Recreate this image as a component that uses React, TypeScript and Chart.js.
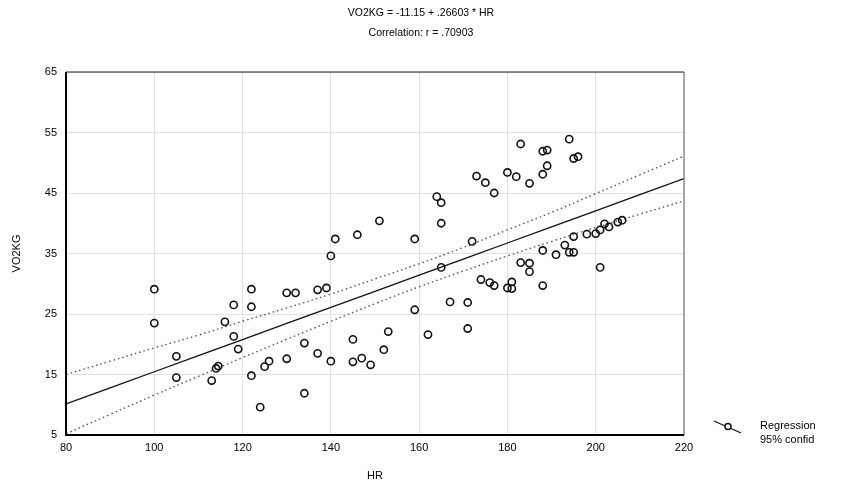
import React, { useEffect, useRef } from "react";
import { Chart, registerables } from "chart.js";

Chart.register(...registerables);

// Observed heart rate (HR) and oxygen uptake per kg (VO2KG)
const hr = [
  100, 100, 105, 105, 113, 114, 114.5, 116, 118, 118, 119, 122, 122, 122, 124, 125, 126,
  130, 132, 130, 134, 134, 137, 139, 137, 140, 140, 141, 145, 145, 146, 147, 149, 151,
  152, 153, 159, 159, 162, 164, 165, 165, 165, 167, 171, 171, 172, 173, 174, 175, 176,
  177, 177, 180, 180, 181, 181, 182, 183, 183, 185, 185, 185, 188, 189, 189, 188, 188,
  188, 191, 193, 194, 195, 195, 194, 195, 196, 198, 200, 201, 201, 202, 203, 205, 206,
];
const vo2kg = [
  29.1, 23.5, 18.0, 14.5, 14.0, 16.0, 16.4, 23.7, 26.5, 21.3, 19.2, 29.1, 26.2, 14.8, 9.6, 16.3, 17.2,
  28.5, 28.5, 17.6, 20.2, 11.9, 29.0, 29.3, 18.5, 17.2, 34.6, 37.4, 20.8, 17.1, 38.1, 17.7, 16.6, 40.4,
  19.1, 22.1, 37.4, 25.7, 21.6, 44.4, 43.4, 40.0, 32.7, 27.0, 26.9, 22.6, 37.0, 47.8, 30.7, 46.7, 30.2,
  29.7, 45.0, 48.4, 29.3, 30.3, 29.2, 47.7, 53.1, 33.5, 46.6, 33.4, 32.0, 51.9, 52.1, 49.5, 48.1, 35.5,
  29.7, 34.8, 36.4, 35.2, 35.2, 37.8, 53.9, 50.7, 51.0, 38.2, 38.3, 38.9, 32.7, 39.9, 39.4, 40.2, 40.5,
];

// Fitted line: VO2KG = -11.15 + .26603 * HR
const intercept = -11.15;
const slope = 0.26603;
const correlation = ".70903";

// 95% confidence band of the fit
const bandX = [80, 90, 100, 110, 120, 130, 140, 150, 160, 170, 180, 190, 200, 210, 220];
const bandUpper = [15.0, 17.2, 19.4, 21.5, 23.8, 26.0, 28.3, 30.8, 33.3, 36.0, 38.9, 41.8, 44.9, 48.0, 51.1];
const bandLower = [5.2, 8.4, 11.6, 14.7, 17.8, 20.8, 23.8, 26.7, 29.5, 32.1, 34.6, 37.0, 39.3, 41.5, 43.7];

const xTicks = [80, 100, 120, 140, 160, 180, 200, 220];
const yTicks = [5, 15, 25, 35, 45, 55, 65];

const FONT = "'Liberation Sans', Arial, sans-serif";

const decorPlugin = {
  id: "decor",
  afterDatasetsDraw(chart: any) {
    const { ctx, chartArea: a, width } = chart;
    ctx.save();
    // frame: thin top/right, heavy left/bottom
    ctx.strokeStyle = "#222";
    ctx.lineWidth = 1.2;
    ctx.beginPath();
    ctx.moveTo(a.left, a.top);
    ctx.lineTo(a.right, a.top);
    ctx.stroke();
    ctx.strokeStyle = "#777";
    ctx.beginPath();
    ctx.moveTo(a.right, a.top);
    ctx.lineTo(a.right, a.bottom);
    ctx.stroke();
    ctx.strokeStyle = "#000";
    ctx.lineWidth = 2;
    ctx.beginPath();
    ctx.moveTo(a.left, a.top);
    ctx.lineTo(a.left, a.bottom);
    ctx.lineTo(a.right, a.bottom);
    ctx.stroke();

    ctx.fillStyle = "#000";
    ctx.textAlign = "center";
    ctx.textBaseline = "middle";
    ctx.font = `10.5px ${FONT}`;
    ctx.fillText(`VO2KG = ${intercept} + ${String(slope).replace(/^0/, "")} * HR`, width / 2, 13);
    ctx.fillText(`Correlation: r = ${correlation}`, width / 2, 33);

    // axis titles
    ctx.font = `11px ${FONT}`;
    ctx.fillText("HR", (a.left + a.right) / 2, 476);
    ctx.save();
    ctx.translate(17, (a.top + a.bottom) / 2);
    ctx.rotate(-Math.PI / 2);
    ctx.fillText("VO2KG", 0, 0);
    ctx.restore();

    // legend
    const lx = a.right + 30;
    const ly = a.bottom - 10;
    ctx.strokeStyle = "#111";
    ctx.lineWidth = 1.2;
    ctx.beginPath();
    ctx.moveTo(lx, ly - 4);
    ctx.lineTo(lx + 27, ly + 8);
    ctx.stroke();
    ctx.fillStyle = "#fff";
    ctx.lineWidth = 1.5;
    ctx.beginPath();
    ctx.arc(lx + 14, ly + 1.5, 3, 0, Math.PI * 2);
    ctx.fill();
    ctx.stroke();
    ctx.fillStyle = "#000";
    ctx.textAlign = "left";
    ctx.fillText("Regression", lx + 46, ly + 1);
    ctx.fillText("95% confid", lx + 46, ly + 15);
    ctx.restore();
  },
};

export default function App() {
  const ref = useRef<HTMLCanvasElement | null>(null);

  useEffect(() => {
    if (!ref.current) return;
    const points = hr.map((x, i) => ({ x, y: vo2kg[i] }));
    const fit = bandX.map((x) => ({ x, y: intercept + slope * x }));
    const upper = bandX.map((x, i) => ({ x, y: bandUpper[i] }));
    const lower = bandX.map((x, i) => ({ x, y: bandLower[i] }));

    const chart = new Chart(ref.current, {
      type: "scatter",
      data: {
        datasets: [
          {
            label: "Regression",
            data: points,
            pointStyle: "circle",
            pointRadius: 3.6,
            pointBorderWidth: 1.6,
            pointBorderColor: "#111",
            pointBackgroundColor: "rgba(0,0,0,0)",
            showLine: false,
            order: 0,
          },
          {
            label: "fit",
            type: "line",
            data: fit,
            borderColor: "#111",
            borderWidth: 1.3,
            pointRadius: 0,
            tension: 0,
            order: 1,
          },
          {
            label: "95% confid",
            type: "line",
            data: upper,
            borderColor: "#555",
            borderWidth: 1.4,
            borderDash: [1.5, 3],
            pointRadius: 0,
            tension: 0.4,
            order: 2,
          },
          {
            label: "95% confid low",
            type: "line",
            data: lower,
            borderColor: "#555",
            borderWidth: 1.4,
            borderDash: [1.5, 3],
            pointRadius: 0,
            tension: 0.4,
            order: 2,
          },
        ],
      },
      options: {
        responsive: false,
        animation: false,
        layout: { padding: { top: 72, right: 158, left: 0, bottom: 0 } },
        plugins: {
          legend: { display: false },
          title: { display: false },
          tooltip: { enabled: false },
        },
        scales: {
          x: {
            type: "linear",
            min: 80,
            max: 220,
            afterBuildTicks: (s: any) => {
              s.ticks = xTicks.map((v) => ({ value: v }));
            },
            afterFit: (s: any) => {
              s.height = 51;
            },
            ticks: {
              color: "#000",
              font: { family: FONT, size: 11 },
              padding: 6,
              maxRotation: 0,
            },
            grid: { color: "#e2e2e2", lineWidth: 1, drawTicks: false },
            border: { display: false },
          },
          y: {
            type: "linear",
            min: 5,
            max: 65,
            afterBuildTicks: (s: any) => {
              s.ticks = yTicks.map((v) => ({ value: v }));
            },
            afterFit: (s: any) => {
              s.width = 66;
            },
            ticks: {
              color: "#000",
              font: { family: FONT, size: 11 },
              padding: 9,
            },
            grid: { color: "#e2e2e2", lineWidth: 1, drawTicks: false },
            border: { display: false },
          },
        },
      },
      plugins: [decorPlugin],
    } as any);
    return () => chart.destroy();
  }, []);

  return (
    <div style={{ position: "absolute", left: 0, top: 0, width: 842, height: 486, background: "#fff" }}>
      <canvas ref={ref} width={842} height={486} style={{ display: "block" }} />
    </div>
  );
}
